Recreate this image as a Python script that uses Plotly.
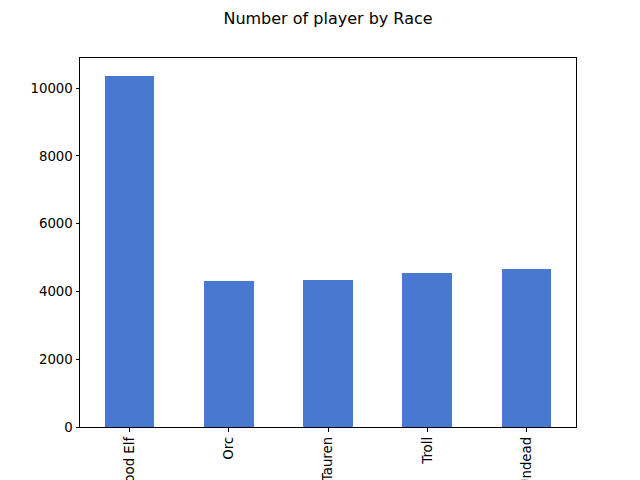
import plotly.graph_objects as go

races = ["Blood Elf", "Orc", "Tauren", "Troll", "Undead"]
players = [10374, 4308, 4337, 4543, 4661]
y_ticks = [0, 2000, 4000, 6000, 8000, 10000]

fig = go.Figure(go.Bar(
    x=list(range(len(races))),
    y=players,
    width=0.5,
    marker=dict(color="#4878d0", line=dict(width=0)),
))

# page body has an 8px margin, so the figure is offset by 8px
fig.update_layout(
    width=640, height=480,
    paper_bgcolor="white", plot_bgcolor="white",
    margin=dict(l=72, r=72, t=50, b=61, autoexpand=False),
    font=dict(family="DejaVu Sans", size=13.33, color="black"),
    title=dict(text="Number of player by Race", x=0.5, xanchor="center",
               y=1 - 10/480, yanchor="middle", font=dict(size=16)),
    showlegend=False,
    bargap=0,
)
fig.update_xaxes(
    range=[-0.5, len(races) - 0.5],
    tickmode="array", tickvals=list(range(len(races))), ticktext=races,
    tickangle=-90, ticks="outside", ticklen=3.5, tickwidth=0.8, tickcolor="black",
    showline=True, linecolor="black", linewidth=1, mirror=True,
    showgrid=False, zeroline=False, automargin=False,
)
fig.update_yaxes(
    range=[0, max(players) * 1.05],
    tickmode="array", tickvals=y_ticks, ticktext=[str(v) for v in y_ticks],
    ticks="outside", ticklen=3.5, tickwidth=0.8, tickcolor="black",
    showline=True, linecolor="black", linewidth=1, mirror=True,
    showgrid=False, zeroline=False, automargin=False,
)

fig.write_html("out.html")
